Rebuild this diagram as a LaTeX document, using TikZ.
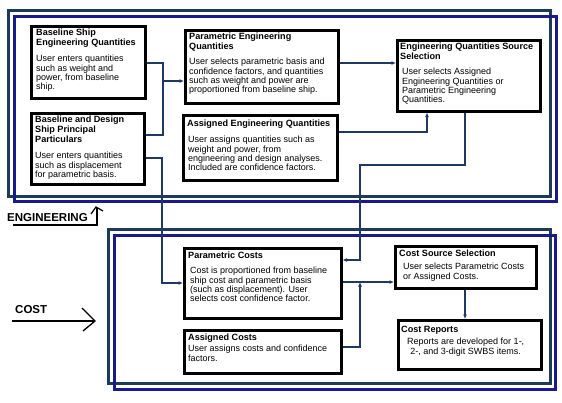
\documentclass[tikz,border=0pt]{standalone}
\usepackage{fontspec}
\setmainfont{Liberation Sans}
\usetikzlibrary{arrows.meta}
\definecolor{frameout}{HTML}{1C3A5C}
\definecolor{framein}{HTML}{1A1A8C}
\definecolor{conn}{HTML}{1F3864}
\tikzset{
  box/.style={draw=black, line width=2.6pt, fill=white, anchor=north west, inner sep=0pt},
  txt/.style={anchor=north west, inner sep=0pt, align=left, font=\fontsize{9}{9.3}\selectfont},
  ttl/.style={anchor=north west, inner sep=0pt, align=left, font=\fontsize{9.1}{10}\selectfont\bfseries},
  wire/.style={draw=conn, line width=1.3pt},
  arr/.style={wire, -{Latex[length=4.5pt,width=4pt]}},
  fout/.style={draw=frameout, line width=3pt},
  fin/.style={draw=framein, line width=3pt},
  biglabel/.style={anchor=south west, inner sep=0pt, font=\fontsize{11.5}{12}\selectfont\bfseries}
}
\begin{document}
\begin{tikzpicture}[x=1pt,y=-1pt]
\useasboundingbox[fill=white] (0,0) rectangle (562,402);
% frames
\draw[fout] (8,10) rectangle (550,196);
\draw[fin] (14,16) rectangle (556,201);
\draw[fout] (108,229) rectangle (550,383);
\draw[fin] (114,235) rectangle (555,389);

% boxes
\node[box, minimum width=114pt, minimum height=72pt] (b1) at (30,25) {};
\node[box, minimum width=113pt, minimum height=71pt] (b2) at (30,112) {};
\node[box, minimum width=153pt, minimum height=73pt] (b3) at (184,29) {};
\node[box, minimum width=154pt, minimum height=65pt] (b4) at (182,114) {};
\node[box, minimum width=143pt, minimum height=71pt] (b5) at (396,39) {};
\node[box, minimum width=157pt, minimum height=70pt] (b6) at (183,247) {};
\node[box, minimum width=157pt, minimum height=43pt] (b7) at (183,329) {};
\node[box, minimum width=141pt, minimum height=42pt] (b8) at (394,245) {};
\node[box, minimum width=143pt, minimum height=49pt] (b9) at (397,319) {};

% texts
\node[ttl] (t1) at (36,29) {Baseline Ship\\Engineering Quantities};
\node[txt] (d1) at (36,55) {User enters quantities\\such as weight and\\power, from baseline\\ship.};
\node[ttl] (t2) at (35,116) {Baseline and Design\\Ship Principal\\Particulars};
\node[txt] (d2) at (35,152) {User enters quantities\\such as displacement\\for parametric basis.};
\node[ttl] (t3) at (189,33) {Parametric Engineering\\Quantities};
\node[txt] (d3) at (189,58) {User selects parametric basis and\\confidence factors, and quantities\\such as weight and power are\\proportioned from baseline ship.};
\node[ttl] (t4) at (187,120) {Assigned Engineering Quantities};
\node[txt] (d4) at (188,136) {User assigns quantities such as\\weight and power, from\\engineering and design analyses.\\Included are confidence factors.};
\node[ttl] (t5) at (400,43) {Engineering Quantities Source\\Selection};
\node[txt] (d5) at (402,68) {User selects Assigned\\Engineering Quantities or\\Parametric Engineering\\Quantities.};
\node[ttl] (t6) at (188,252) {Parametric Costs};
\node[txt] (d6) at (190,267) {Cost is proportioned from baseline\\ship cost and parametric basis\\(such as displacement). User\\selects cost confidence factor.};
\node[ttl] (t7) at (188,334) {Assigned Costs};
\node[txt] (d7) at (188,345) {User assigns costs and confidence\\factors.};
\node[ttl] (t8) at (399,250) {Cost Source Selection};
\node[txt] (d8) at (403,263) {User selects Parametric Costs\\or Assigned Costs.};
\node[ttl] (t9) at (401,326) {Cost Reports};
\node[txt, align=center] (d9) at (407,338) {Reports are developed for 1-,\\2-, and 3-digit SWBS items.};

% connector coordinates
\coordinate (j1) at (163,63);
\coordinate (j2) at (163,135);
\coordinate (j3) at (163,81);
\coordinate (j4) at (162,158);
\coordinate (j5) at (162,283);
\coordinate (k1) at (427,132);
\coordinate (k2) at (465,165);
\coordinate (k3) at (360,165);
\coordinate (k4) at (360,260);
\coordinate (m1) at (360,347);
\coordinate (m2) at (360,282);

\draw[wire] (b1.east |- j1) -- (j1) -- (j2) -- (b2.east |- j2);
\draw[arr] (j3) -- (b3.west |- j3);
\draw[arr] (b2.east |- j4) -- (j4) -- (j5) -- (b6.west |- j5);
\draw[arr] (b3.east |- 0,63) -- (b5.west |- 0,63);
\draw[arr] (b4.east |- k1) -- (k1) -- (k1 |- b5.south);
\draw[arr] (k2 |- b5.south) -- (k2) -- (k3) -- (k4) -- (b6.east |- k4);
\draw[arr] (b6.east |- m2) -- (b8.west |- m2);
\draw[arr] (b7.east |- m1) -- (m1) -- (m2);
\draw[arr] (b8.south -| k2) -- (b9.north -| k2);

% side labels
\node[biglabel] (eng) at (7,222) {ENGINEERING};
\coordinate (e1) at (13,225);
\coordinate (e2) at (97,225);
\coordinate (e3) at (97,208);
\draw[line width=1.4pt] (e1) -- (e2) -- (e3);
\draw[line width=1.2pt] (91,214) -- (96,207) -- (103,211);
\node[biglabel] (cost) at (15,314) {COST};
\coordinate (c1) at (12,321);
\coordinate (c2) at (95,321);
\draw[line width=1.6pt] (c1) -- (c2);
\draw[line width=1.3pt] (82,308) -- (95,321) -- (83,331);
\end{tikzpicture}
\end{document}
